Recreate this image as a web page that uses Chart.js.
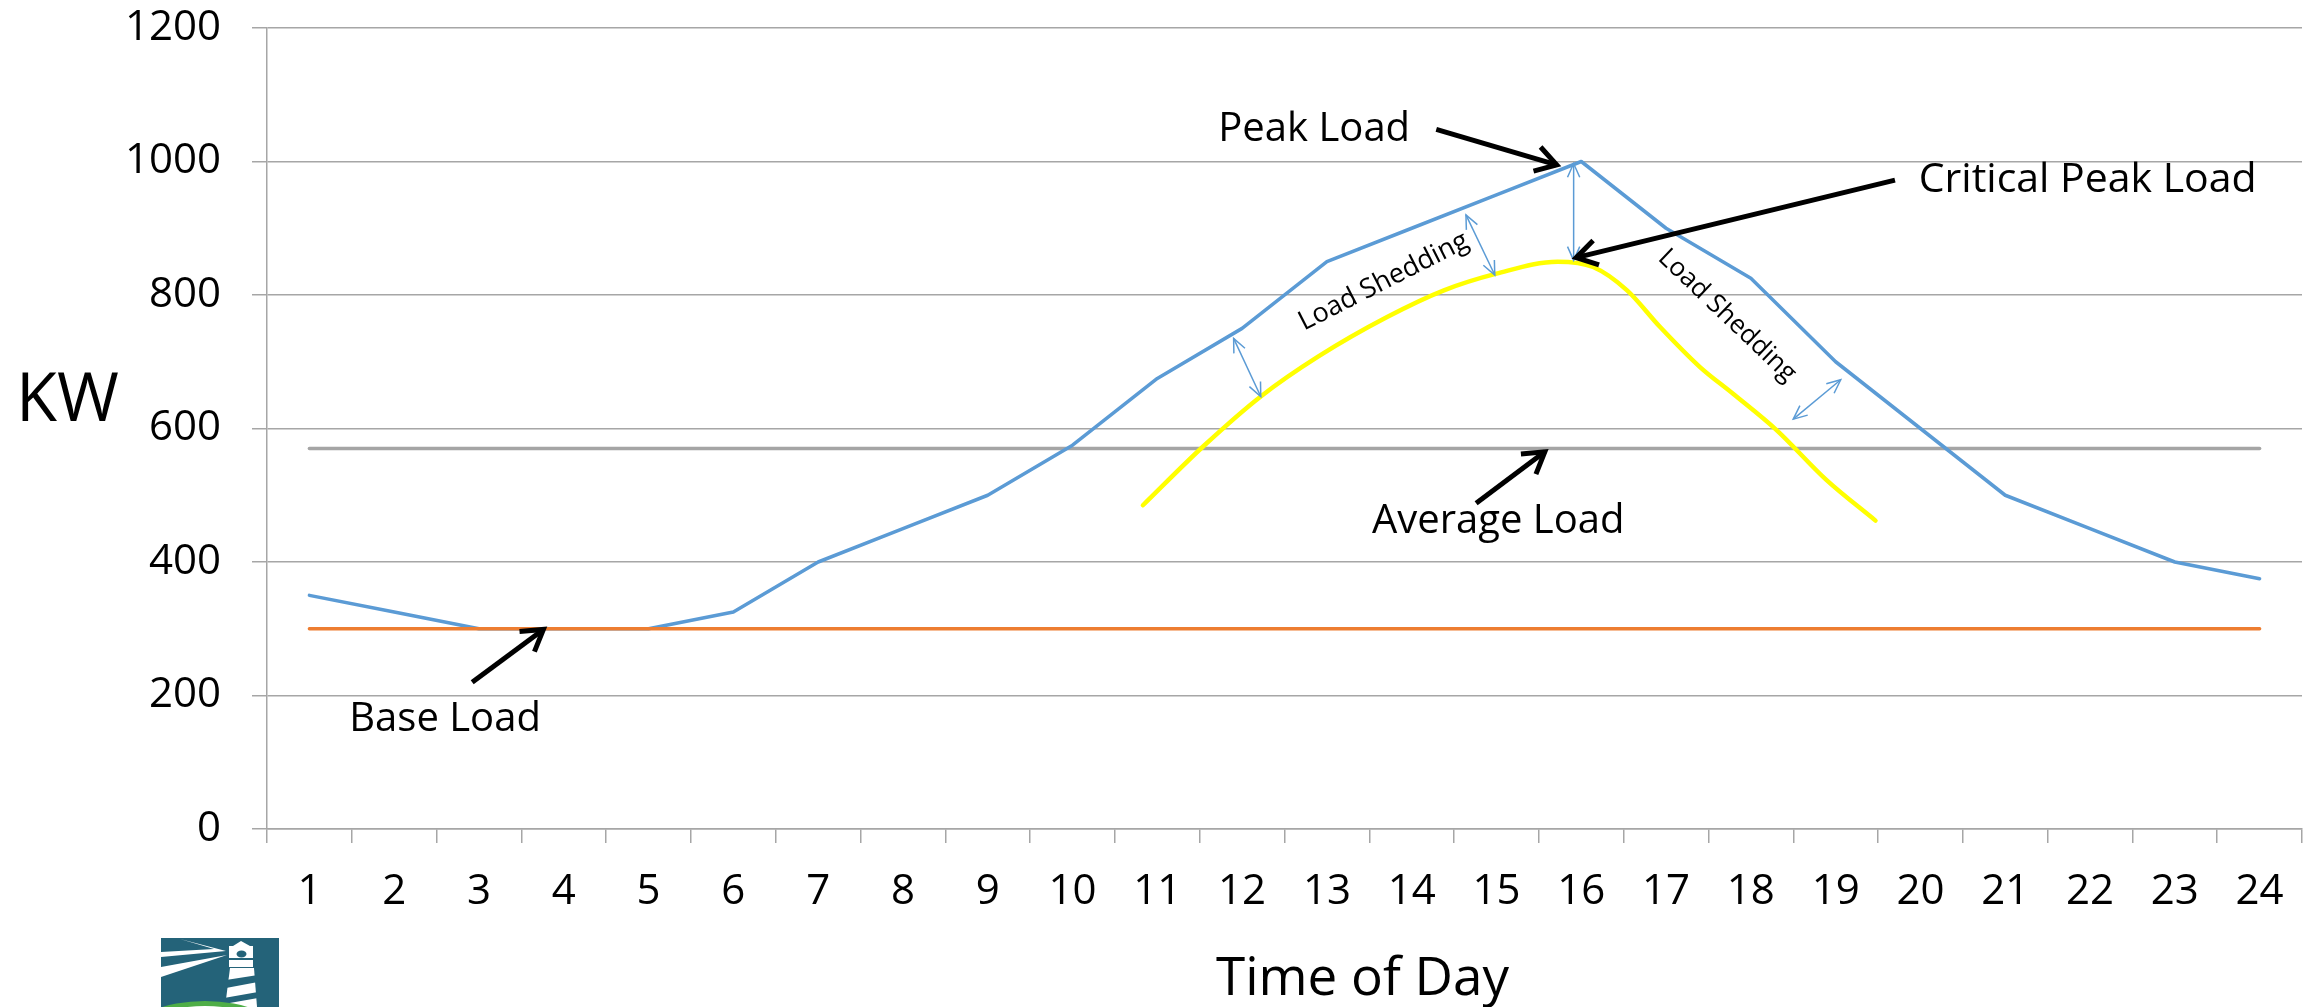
<!DOCTYPE html>
<html>
<head>
<meta charset="utf-8">
<title>Load profile</title>
<script src="https://cdn.jsdelivr.net/npm/chart.js@4.4.1/dist/chart.umd.min.js"></script>
<style>
  html, body { margin: 0; padding: 0; background: #fff; }
  canvas { display: block; }
</style>
</head>
<body>
<canvas id="loadChart" width="2309" height="1007"></canvas>
<script>
// hours of the day (category axis)
const hours = ['1', '2', '3', '4', '5', '6', '7', '8', '9', '10', '11', '12',
  '13', '14', '15', '16', '17', '18', '19', '20', '21', '22', '23', '24'];

// kW per hour
const totalLoad = [350, 325, 300, 300, 300, 325, 400, 450, 500, 575, 675, 750,
  850, 900, 950, 1000, 900, 825, 700, 600, 500, 450, 400, 375];
const baseLoad = [300, 300, 300, 300, 300, 300, 300, 300, 300, 300, 300, 300,
  300, 300, 300, 300, 300, 300, 300, 300, 300, 300, 300, 300];
const averageLoad = [570, 570, 570, 570, 570, 570, 570, 570, 570, 570, 570, 570,
  570, 570, 570, 570, 570, 570, 570, 570, 570, 570, 570, 570];

// critical peak curve sits between the hour marks
const criticalHours = [10.83, 11.54, 12.22, 12.9, 13.71, 14.38, 15.0, 15.72,
  16.14, 16.54, 16.93, 17.40, 17.79, 18.30, 18.89, 19.47];
const criticalLoad = [485, 573, 648, 708, 767, 807, 832, 850,
  842, 807, 752, 692, 652, 598, 523, 462];

// callouts, placed in (hour, kW)
const notes = [
  { text: 'Peak Load', x: 12.85, y: 1031, size: 40, align: 'center' },
  { text: 'Critical Peak Load', x: 19.98, y: 955, size: 41, align: 'left' },
  { text: 'Average Load', x: 15.02, y: 443, size: 40, align: 'center' },
  { text: 'Base Load', x: 2.6, y: 147, size: 40, align: 'center' },
  { text: 'Load Shedding', x: 13.67, y: 820, size: 27, angle: -27 },
  { text: 'Load Shedding', x: 17.72, y: 769, size: 26, angle: 43.6 }
];
const pointers = [
  { from: [14.29, 1048], to: [15.71, 995] },
  { from: [19.70, 972], to: [15.94, 856] },
  { from: [14.76, 488], to: [15.57, 565] },
  { from: [2.92, 220], to: [3.76, 299] }
];
const gaps = [
  { from: [15.91, 997], to: [15.91, 852] },
  { from: [14.64, 920], to: [14.98, 830] },
  { from: [11.90, 735], to: [12.22, 648] },
  { from: [19.06, 673], to: [18.50, 614] }
];

const BLUE = '#5B9BD5';
const ORANGE = '#ED7D31';
const GREY = '#A5A5A5';
const YELLOW = '#FFFF00';
const GRID = '#A6A6A6';
const FONT = "'Open Sans', sans-serif";

Chart.defaults.font.family = FONT;
Chart.defaults.color = '#000';

function arrow(ctx, x1, y1, x2, y2, o) {
  const a = Math.atan2(y2 - y1, x2 - x1);
  ctx.strokeStyle = o.color;
  ctx.lineWidth = o.width;
  ctx.lineCap = 'butt';
  ctx.lineJoin = 'miter';
  ctx.beginPath();
  ctx.moveTo(x1, y1);
  ctx.lineTo(x2, y2);
  ctx.stroke();
  const head = (x, y, ang) => {
    ctx.beginPath();
    ctx.moveTo(x - o.head * Math.cos(ang - o.spread), y - o.head * Math.sin(ang - o.spread));
    ctx.lineTo(x, y);
    ctx.lineTo(x - o.head * Math.cos(ang + o.spread), y - o.head * Math.sin(ang + o.spread));
    ctx.stroke();
  };
  head(x2, y2, a);
  if (o.both) head(x1, y1, a + Math.PI);
}

function drawLogo(ctx) {
  ctx.save();
  ctx.beginPath();
  ctx.rect(161, 938, 118, 69);
  ctx.clip();
  ctx.fillStyle = '#246379';
  ctx.fillRect(161, 938, 118, 69);
  // light beams
  ctx.fillStyle = '#fff';
  ctx.beginPath();
  ctx.moveTo(180, 939); ctx.lineTo(226, 951); ctx.lineTo(161, 957); ctx.lineTo(161, 952); ctx.lineTo(214, 949);
  ctx.closePath(); ctx.fill();
  ctx.beginPath();
  ctx.moveTo(161, 967); ctx.lineTo(227, 955); ctx.lineTo(161, 977);
  ctx.closePath(); ctx.fill();
  // lantern
  ctx.beginPath();
  ctx.moveTo(233, 946); ctx.lineTo(241, 941); ctx.lineTo(250, 946);
  ctx.lineTo(253, 946); ctx.lineTo(253, 967); ctx.lineTo(229, 967); ctx.lineTo(229, 946);
  ctx.closePath(); ctx.fill();
  ctx.fillStyle = '#246379';
  ctx.beginPath(); ctx.ellipse(241.5, 954, 5, 3.5, 0, 0, Math.PI * 2); ctx.fill();
  ctx.fillRect(229, 958, 24, 2);
  // tower
  ctx.fillStyle = '#fff';
  ctx.beginPath();
  ctx.moveTo(230, 968); ctx.lineTo(254, 968); ctx.lineTo(257, 1007); ctx.lineTo(225, 1007);
  ctx.closePath(); ctx.fill();
  ctx.fillStyle = '#246379';
  ctx.beginPath();
  ctx.moveTo(226, 980); ctx.lineTo(258, 975); ctx.lineTo(258, 982); ctx.lineTo(226, 988);
  ctx.closePath(); ctx.fill();
  ctx.beginPath();
  ctx.moveTo(224, 998); ctx.lineTo(258, 992); ctx.lineTo(258, 998); ctx.lineTo(224, 1004);
  ctx.closePath(); ctx.fill();
  // green hill
  ctx.fillStyle = '#4FAE47';
  ctx.beginPath(); ctx.ellipse(205, 1035, 75, 34, 0, 0, Math.PI * 2); ctx.fill();
  ctx.fillStyle = '#fff';
  ctx.beginPath(); ctx.ellipse(205, 1040, 72, 34, 0, 0, Math.PI * 2); ctx.fill();
  ctx.restore();
}

const callouts = {
  id: 'callouts',
  afterDatasetsDraw(chart) {
    const { ctx, chartArea } = chart;
    const xs = chart.scales.xl;
    const ys = chart.scales.y;
    const px = v => xs.getPixelForValue(v);
    const py = v => ys.getPixelForValue(v);
    ctx.save();

    gaps.forEach(g => arrow(ctx, px(g.from[0]), py(g.from[1]), px(g.to[0]), py(g.to[1]),
      { color: BLUE, width: 1.5, head: 15, spread: 0.42, both: true }));
    pointers.forEach(p => arrow(ctx, px(p.from[0]), py(p.from[1]), px(p.to[0]), py(p.to[1]),
      { color: '#000', width: 5, head: 24, spread: 0.55 }));

    ctx.fillStyle = '#000';
    notes.forEach(n => {
      ctx.save();
      ctx.translate(px(n.x), py(n.y));
      ctx.font = n.size + 'px ' + FONT;
      if (n.angle) {
        ctx.rotate(n.angle * Math.PI / 180);
        ctx.textAlign = 'center';
        ctx.textBaseline = 'middle';
      } else {
        ctx.textAlign = n.align;
        ctx.textBaseline = 'alphabetic';
      }
      ctx.fillText(n.text, 0, 0);
      ctx.restore();
    });

    // axis titles
    ctx.font = '67px ' + FONT;
    ctx.textAlign = 'left';
    ctx.textBaseline = 'alphabetic';
    ctx.fillText('KW', 16, py(611));
    ctx.font = '53px ' + FONT;
    ctx.textAlign = 'center';
    ctx.fillText('Time of Day', px(13.42), chartArea.bottom + 166);

    drawLogo(ctx);
    ctx.restore();
  }
};

new Chart(document.getElementById('loadChart'), {
  type: 'line',
  data: {
    labels: hours,
    datasets: [
      {
        label: 'Critical Peak Load',
        data: criticalHours.map((h, i) => ({ x: h, y: criticalLoad[i] })),
        xAxisID: 'xl',
        borderColor: YELLOW,
        borderWidth: 4.5,
        cubicInterpolationMode: 'monotone',
        pointRadius: 0
      },
      {
        label: 'Base Load',
        data: baseLoad,
        xAxisID: 'x',
        borderColor: ORANGE,
        borderWidth: 3.5,
        pointRadius: 0
      },
      {
        label: 'Load',
        data: totalLoad,
        xAxisID: 'x',
        borderColor: BLUE,
        borderWidth: 3.5,
        pointRadius: 0
      },
      {
        label: 'Average Load',
        data: averageLoad,
        xAxisID: 'x',
        borderColor: GREY,
        borderWidth: 3.5,
        pointRadius: 0
      }
    ]
  },
  options: {
    responsive: false,
    animation: false,
    events: [],
    devicePixelRatio: 1,
    layout: { padding: { top: 28, right: 7, left: 0, bottom: 0 } },
    elements: { line: { tension: 0, borderCapStyle: 'round', borderJoinStyle: 'round' } },
    plugins: {
      legend: { display: false },
      tooltip: { enabled: false }
    },
    scales: {
      x: {
        type: 'category',
        offset: true,
        grid: { offset: true, drawOnChartArea: false, tickLength: 14, color: GRID, lineWidth: 1.5 },
        border: { color: GRID, width: 1.5 },
        ticks: { font: { size: 42 }, padding: 24, maxRotation: 0, autoSkip: false },
        afterFit: s => { s.height = 178; }
      },
      xl: {
        type: 'linear',
        display: false,
        min: 0.5,
        max: 24.5
      },
      y: {
        min: 0,
        max: 1200,
        ticks: { stepSize: 200, font: { size: 42 }, padding: 31, callback: v => String(v) },
        grid: { color: GRID, lineWidth: 1.5, tickLength: 15 },
        border: { color: GRID, width: 1.5 },
        afterFit: s => {
          s.width = 267;
          s.paddingTop = 0;
          s.paddingBottom = 0;
        }
      }
    }
  },
  plugins: [callouts]
});
</script>
</body>
</html>
